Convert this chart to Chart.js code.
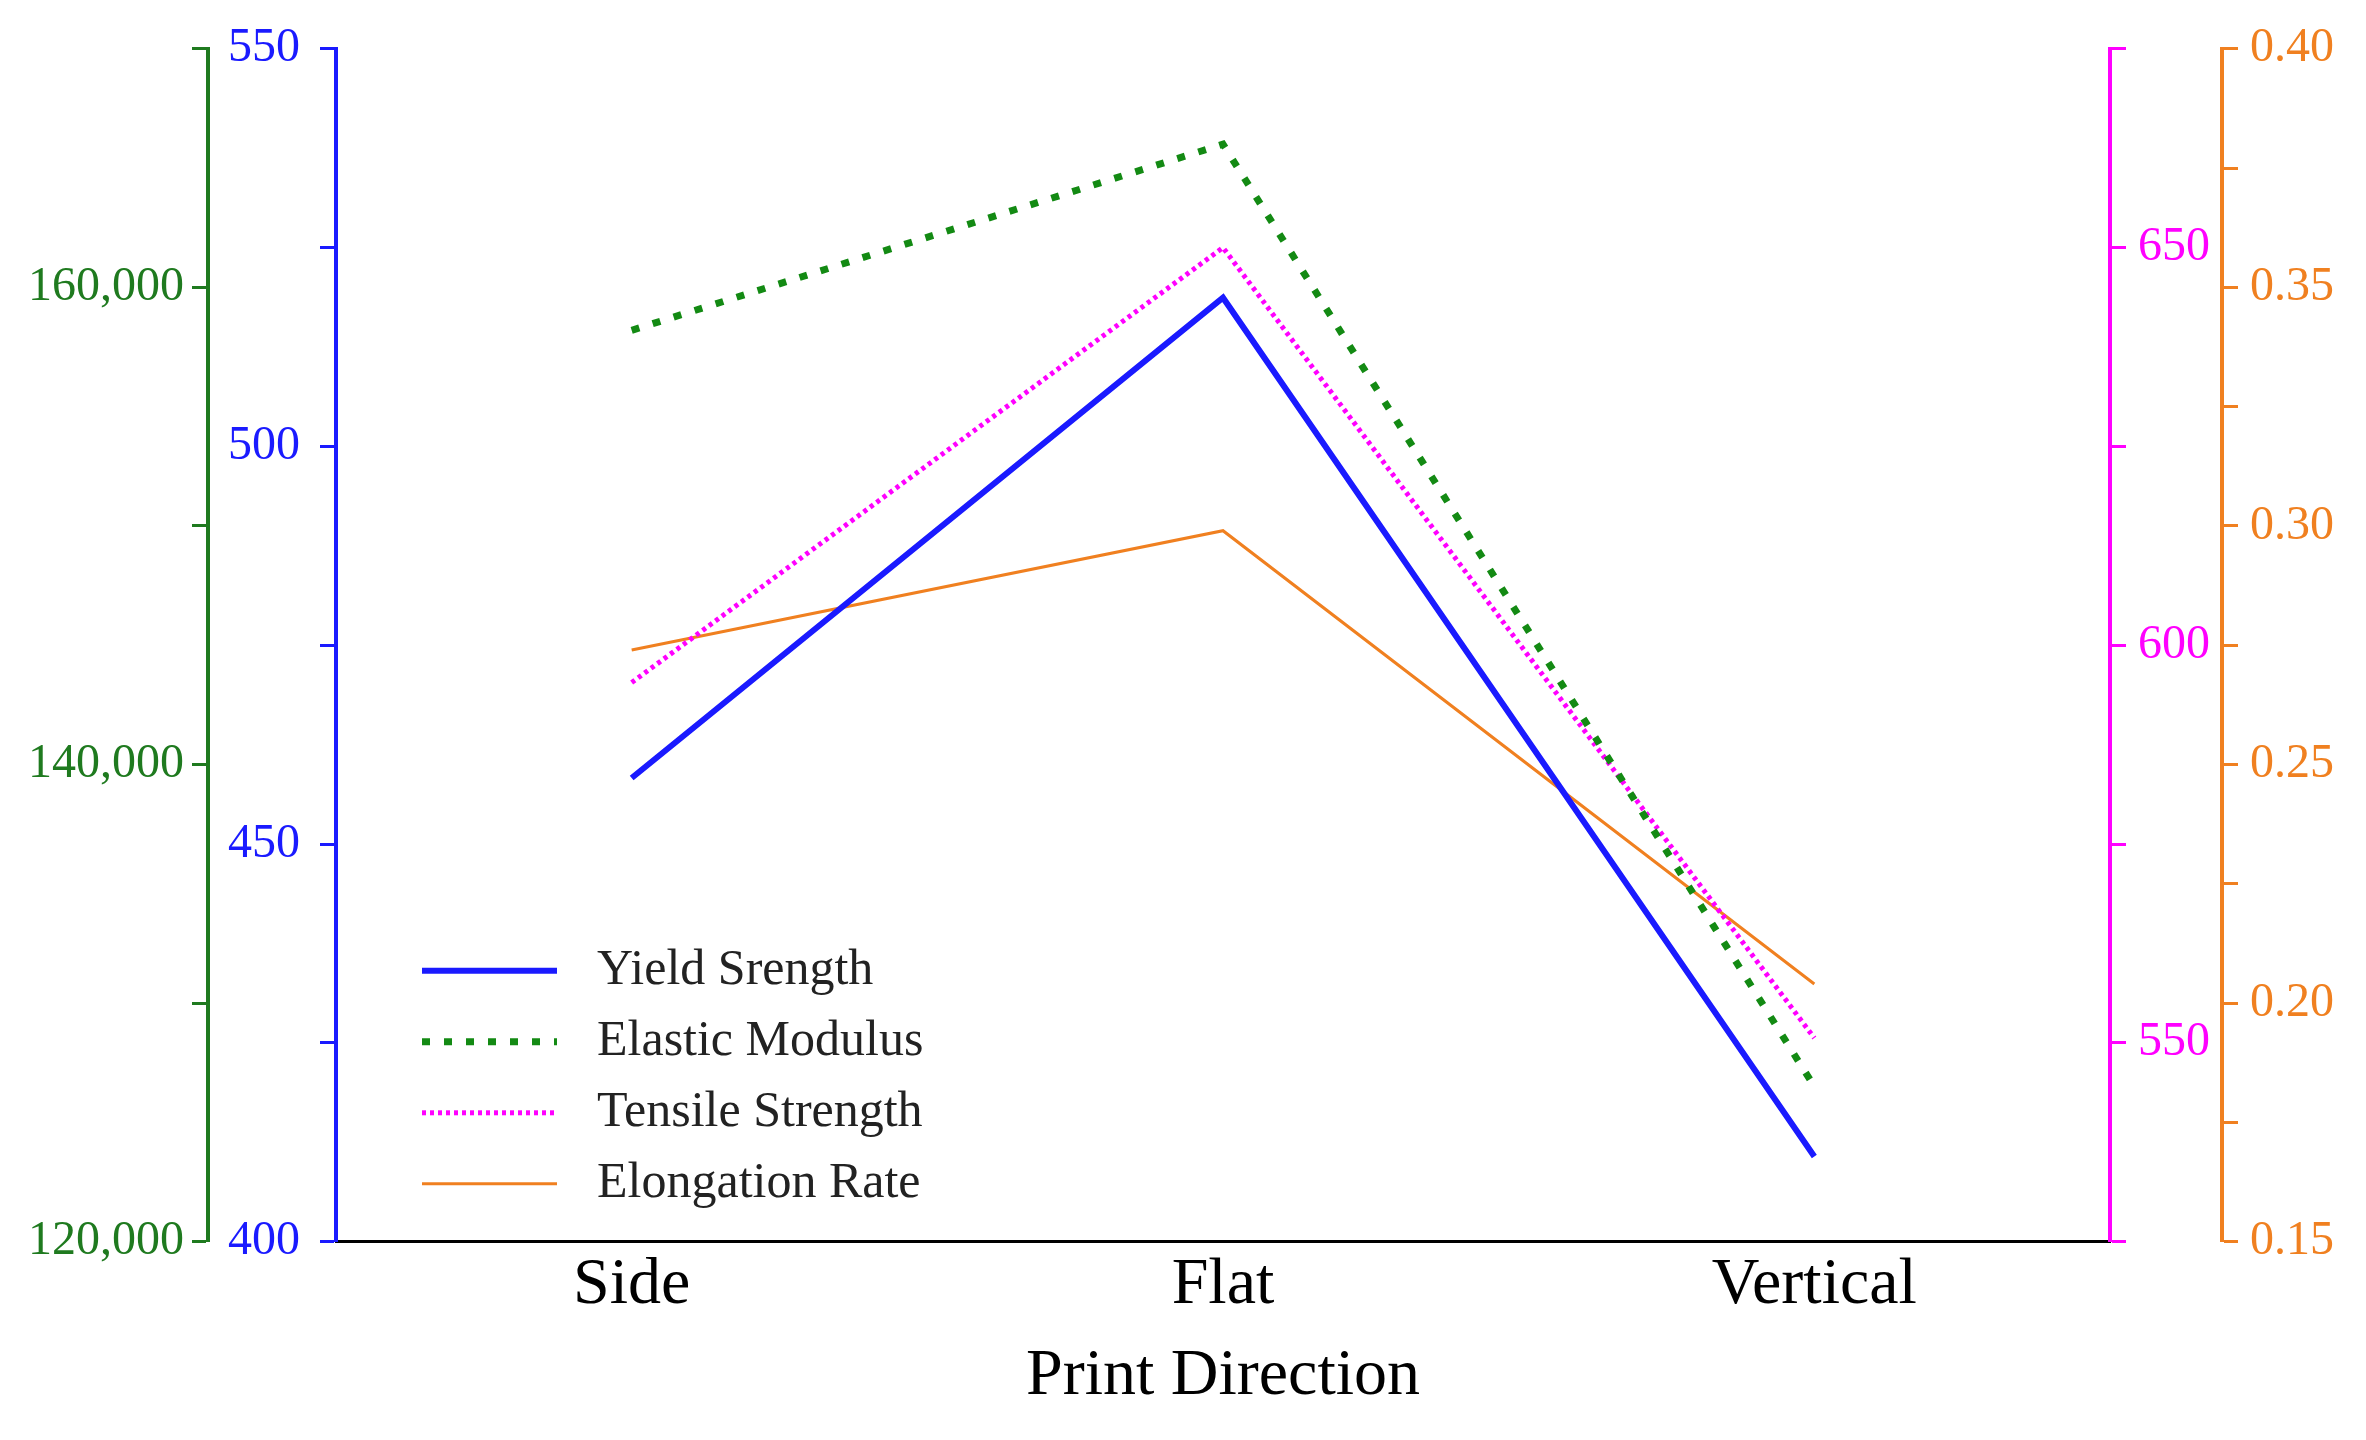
<!DOCTYPE html>
<html>
<head>
<meta charset="utf-8">
<script src="https://cdn.jsdelivr.net/npm/chart.js@4"></script>
<style>
  html, body { margin: 0; padding: 0; background: #fff; }
  #wrap { width: 2366px; height: 1440px; }
</style>
</head>
<body>
<div id="wrap"><canvas id="chart"></canvas></div>
<script>
const directions = ["Side", "Flat", "Vertical"];
const yieldStrength = [458.3, 518.7, 410.7];
const elasticModulus = [158200, 166000, 126500];
const tensileStrength = [595.3, 650, 550.6];
const elongationRate = [0.274, 0.299, 0.204];

const SERIF = "'Liberation Serif', 'DejaVu Serif', serif";
const GREEN = "#1f7a1f", BLUE = "#1a1aff", MAGENTA = "#ff00ff", ORANGE = "#f08020";

function axis(position, color, min, max, step, weight, fmt, labelStep, pad) {
  return {
    position, min, max, weight,
    grid: { drawOnChartArea: false, drawTicks: true, tickLength: 16, tickWidth: 3, tickColor: color },
    border: { color: color, width: 4 },
    ticks: {
      stepSize: step, color: color, padding: pad,
      font: { family: SERIF, size: 48 },
      callback: v => {
        const k = Math.round(v / step * 1000) / 1000;
        const m = Math.round(labelStep / step);
        return Math.round(k) % m === 0 ? fmt(v) : "";
      }
    }
  };
}

// legend drawn inside the plot, lower left
const innerLegend = {
  id: "innerLegend",
  afterDraw(chart) {
    const { ctx, chartArea } = chart;
    const x0 = chartArea.left + 86, y0 = chartArea.top + 922;
    ctx.save();
    ctx.font = "50px " + SERIF;
    ctx.textBaseline = "middle";
    chart.data.datasets.forEach((ds, i) => {
      const y = y0 + i * 71;
      ctx.beginPath();
      ctx.strokeStyle = ds.borderColor;
      ctx.lineWidth = ds.borderWidth;
      ctx.setLineDash(ds.borderDash || []);
      ctx.moveTo(x0, y); ctx.lineTo(x0 + 135, y);
      ctx.stroke();
      ctx.setLineDash([]);
      ctx.fillStyle = "#222";
      ctx.fillText(ds.label, x0 + 175, y);
    });
    ctx.restore();
  }
};

new Chart(document.getElementById("chart"), {
  type: "line",
  data: {
    labels: directions,
    datasets: [
      { label: "Yield Srength", data: yieldStrength, yAxisID: "yBlue", borderColor: BLUE, borderWidth: 6 },
      { label: "Elastic Modulus", data: elasticModulus, yAxisID: "yGreen", borderColor: "#138a13", borderWidth: 7, borderDash: [8, 14] },
      { label: "Tensile Strength", data: tensileStrength, yAxisID: "yMag", borderColor: MAGENTA, borderWidth: 5, borderDash: [4, 4] },
      { label: "Elongation Rate", data: elongationRate, yAxisID: "yOrange", borderColor: ORANGE, borderWidth: 3 }
    ]
  },
  options: {
    responsive: true,
    maintainAspectRatio: false,
    animation: false,
    layout: { padding: { top: 22, right: 20, bottom: 20, left: 20 } },
    elements: { point: { radius: 0 }, line: { tension: 0 } },
    plugins: { legend: { display: false }, tooltip: { enabled: false } },
    scales: {
      x: {
        offset: true,
        grid: { display: false, drawTicks: false },
        border: { color: "#000", width: 3 },
        ticks: { color: "#000", font: { family: SERIF, size: 66 }, padding: 4 },
        title: { display: true, text: "Print Direction", color: "#000", font: { family: SERIF, size: 66 }, padding: { top: 8 } }
      },
      yBlue: axis("left", BLUE, 400, 550, 25, 1, v => String(v), 50, 20),
      yGreen: axis("left", GREEN, 120000, 170000, 10000, 2, v => v.toLocaleString("en-US"), 20000, 8),
      yMag: axis("right", MAGENTA, 525, 675, 25, 1, v => String(v), 50, 12),
      yOrange: axis("right", ORANGE, 0.15, 0.40, 0.025, 2, v => v.toFixed(2), 0.05, 12)
    }
  },
  plugins: [innerLegend]
});
</script>
</body>
</html>
